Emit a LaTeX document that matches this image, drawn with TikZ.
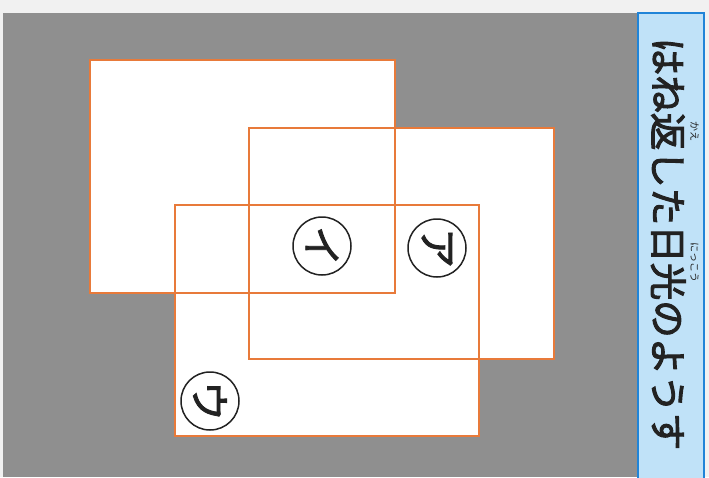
\documentclass[tikz,border=0pt]{standalone}
\usepackage{fontspec}
\newfontfamily\jpfont{Noto Sans CJK JP}
\newfontfamily\jpmid{Noto Sans CJK JP}[FakeBold=2.6]
\newfontfamily\jptag{Noto Sans CJK JP}[FakeBold=2.2]
\definecolor{paper}{RGB}{241,241,241}
\definecolor{bggray}{RGB}{143,143,143}
\definecolor{edge}{RGB}{232,122,58}
\definecolor{titlefill}{RGB}{192,226,248}
\definecolor{titleline}{RGB}{32,132,216}
\definecolor{ink}{RGB}{34,34,34}
\newlength\rubywd
\newcommand\ruby[2]{\settowidth\rubywd{#1}%
  \makebox[0pt][l]{\makebox[\rubywd]{\raisebox{0.98em}[0pt][0pt]{\jpfont\fontsize{10}{10}\selectfont #2}}}#1}

\begin{document}
\begin{tikzpicture}[
  x=1pt, y=-1pt,
  sheet/.style={draw=edge, line width=1.3pt},
  tag/.style={circle, draw=ink, line width=1.5pt, minimum size=58pt,
              inner sep=0pt, rotate=-90, text=ink,
              font=\jptag\fontsize{40}{40}\selectfont},
  title/.style={rotate=-90, anchor=base, text=ink,
                font=\jpmid\fontsize{37.5}{37.5}\selectfont}
]
\useasboundingbox (0,0) rectangle (709,477);
\fill[paper] (0,0) rectangle (709,477);
\fill[bggray] (3,13) rectangle (637,477);

% white sheets, then all edges on top
\fill[white] (90,60) rectangle (395,293);
\fill[white] (249,128) rectangle (554,359);
\fill[white] (175,205) rectangle (479,436);
\draw[sheet] (90,60) rectangle (395,293);
\draw[sheet] (249,128) rectangle (554,359);
\draw[sheet] (175,205) rectangle (479,436);

\node[tag] (i) at (322,246) {イ};
\node[tag] (a) at (437,248) {ア};
\node[tag] (u) at (210,401) {ウ};

% title strip
\draw[titleline, fill=titlefill, line width=1.6pt] (638,13) rectangle (704,482);
\node[title] (ttl) at (654,244)
  {はね\ruby{返}{かえ}した\ruby{日光}{にっこう}のようす};
\end{tikzpicture}
\end{document}
